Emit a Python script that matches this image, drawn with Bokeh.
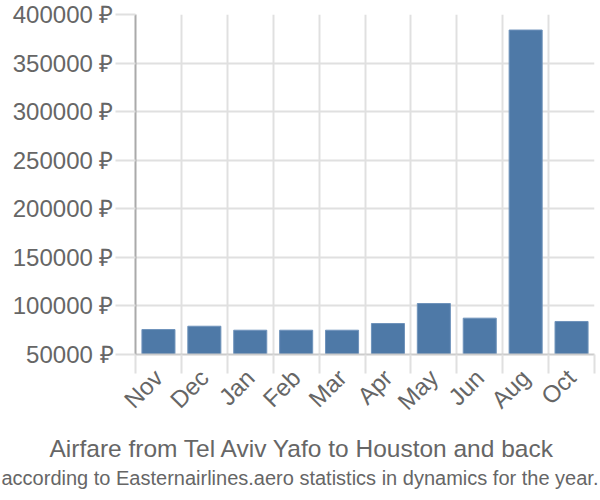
import math
from bokeh.plotting import figure
from bokeh.models import (Range1d, LinearAxis, FixedTicker, PrintfTickFormatter, Title)
from bokeh.embed import file_html
from bokeh.resources import INLINE

months = ["Nov", "Dec", "Jan", "Feb", "Mar", "Apr", "May", "Jun", "Aug", "Oct"]
prices = [75700, 79100, 75000, 75000, 75000, 81900, 102500, 87400, 384000, 84000]
y_ticks = [50000, 100000, 150000, 200000, 250000, 300000, 350000, 400000]

title_text = "Airfare from Tel Aviv Yafo to Houston and back"
subtitle_text = "according to Easternairlines.aero statistics in dynamics for the year."

FONT = "Liberation Sans"
TXT = "#666666"
GRID = "#e0e0e0"

n = len(months)
xs = [i + 0.5 for i in range(n)]

p = figure(width=600, height=500, output_backend="svg", toolbar_location=None,
           x_range=Range1d(0, n), y_range=Range1d(y_ticks[0], y_ticks[-1]),
           x_axis_location=None, y_axis_location=None,
           min_border_left=135, min_border_right=6, min_border_top=14,
           min_border_bottom=146)
p.outline_line_color = None
p.background_fill_color = "white"

p.vbar(x=xs, top=prices, bottom=0, width=0.72, fill_color="#4e79a7",
       line_color="#6f93bb", line_width=1)

# y axis
yax = LinearAxis(ticker=FixedTicker(ticks=y_ticks),
                 formatter=PrintfTickFormatter(format="%d ₽"))
yax.axis_line_color = "#aaaaaa"
yax.axis_line_width = 2
yax.major_tick_out = 20
yax.major_tick_in = 0
yax.major_tick_line_color = GRID
yax.major_tick_line_width = 2
yax.minor_tick_line_color = None
yax.major_label_standoff = 2
yax.major_label_text_font = FONT
yax.major_label_text_font_size = "24px"
yax.major_label_text_color = TXT
p.add_layout(yax, "left")

# x tick marks at category boundaries
xtick = LinearAxis(ticker=FixedTicker(ticks=list(range(n + 1))),
                   major_label_overrides={i: "" for i in range(n + 1)})
xtick.axis_line_color = "#cccccc"
xtick.axis_line_width = 2
xtick.major_tick_out = 19
xtick.major_tick_in = 0
xtick.major_tick_line_color = GRID
xtick.major_tick_line_width = 2
xtick.minor_tick_line_color = None
xtick.major_label_text_font_size = "0px"
xtick.major_label_standoff = 0
p.add_layout(xtick, "below")

# x labels at category centres
xlab = LinearAxis(ticker=FixedTicker(ticks=xs),
                  major_label_overrides={x: m for x, m in zip(xs, months)})
xlab.axis_line_color = None
xlab.major_tick_line_color = None
xlab.minor_tick_line_color = None
xlab.major_tick_out = 0
xlab.major_tick_in = 0
xlab.major_label_standoff = 0
xlab.major_label_orientation = math.pi / 4
xlab.major_label_text_font = FONT
xlab.major_label_text_font_size = "24px"
xlab.major_label_text_color = TXT
p.add_layout(xlab, "below")

# grids
p.ygrid.ticker = FixedTicker(ticks=y_ticks)
p.ygrid.grid_line_color = GRID
p.ygrid.grid_line_width = 2
p.xgrid.ticker = FixedTicker(ticks=list(range(n + 1)))
p.xgrid.grid_line_color = GRID
p.xgrid.grid_line_width = 2

t1 = Title(text=title_text, align="left", text_font=FONT, text_font_size="24.5px",
           text_color=TXT, text_font_style="normal", standoff=11, offset=-86)
t2 = Title(text=subtitle_text, align="left", text_font=FONT, text_font_size="20px",
           text_color=TXT, text_font_style="normal", standoff=-5, offset=-134)
p.add_layout(t1, "below")
p.add_layout(t2, "below")

open("out.html", "w").write(file_html(p, INLINE))
